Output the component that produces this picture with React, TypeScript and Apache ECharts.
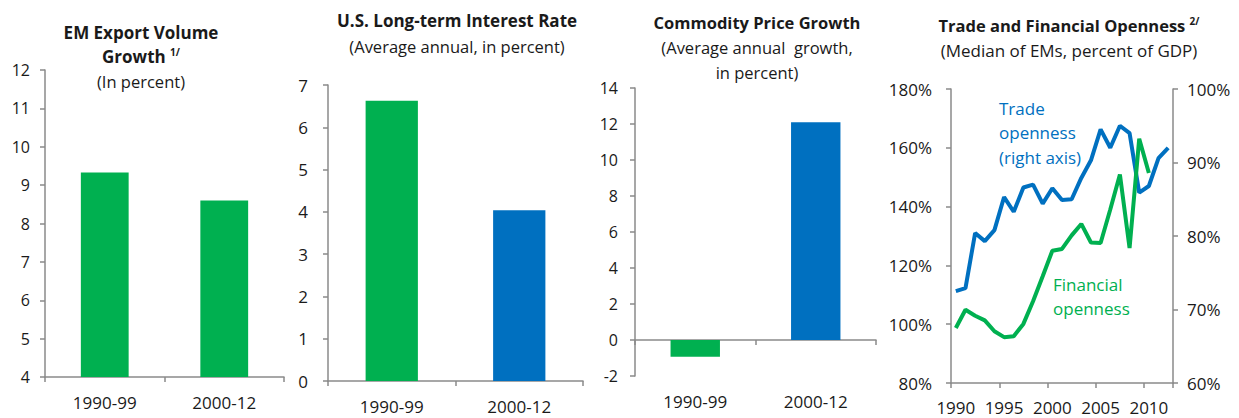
import React, { useEffect, useRef } from "react";
import * as echarts from "echarts";

const periods = ["1990-99", "2000-12"];
const exportGrowth = [9.33, 8.6];
const usLongRate = [6.63, 4.04];
const commodityGrowth = [-0.93, 12.1];
const periodColors = ["#00B050", "#0070C0"];

const years = [
  "1990", "1991", "1992", "1993", "1994", "1995", "1996", "1997", "1998", "1999",
  "2000", "2001", "2002", "2003", "2004", "2005", "2006", "2007", "2008", "2009",
  "2010", "2011", "2012",
];
const tradeOpenness = [
  72.5, 72.9, 80.4, 79.3, 80.8, 85.3, 83.3, 86.6, 87.0, 84.4,
  86.5, 84.9, 85.0, 87.9, 90.3, 94.5, 92.0, 95.0, 94.0, 85.9,
  86.8, 90.6, 92.0,
];
const financialOpenness = [
  98.7, 104.9, 102.9, 101.3, 97.6, 95.6, 95.9, 100.1, 107.8, 116.3,
  125.0, 125.6, 130.2, 134.1, 127.8, 127.6, 139.0, 150.9, 125.9, 163.1,
  151.4, null, null,
];

const GREEN = "#00B050";
const BLUE = "#0070C0";
const AXIS = "#8a8a8a";
const TXT = "#1a1a1a";
const FONT = "Open Sans";

const axisLine = { show: true, lineStyle: { color: AXIS, width: 1.5 } };
const tick = { show: true, length: 5, lineStyle: { color: AXIS, width: 1.5 } };
const label = { color: TXT, fontSize: 17, fontFamily: FONT };

function txt(x: number, y: number, text: string, bold = false, size = 16.5) {
  return {
    type: "text",
    x,
    y,
    style: {
      text,
      fill: TXT,
      fontSize: size,
      fontWeight: bold ? "bold" : "normal",
      fontFamily: FONT,
      textAlign: "center",
      textVerticalAlign: "middle",
      rich: { sup: { fontSize: 10, fontWeight: "bold", fontFamily: FONT, fill: TXT, padding: [0, 0, 9, 0] } },
    },
  };
}

export default function App() {
  const ref = useRef<HTMLDivElement>(null);
  useEffect(() => {
    if (!ref.current) return;
    const chart = echarts.init(ref.current, null, { renderer: "svg" });
    const option: any = {
      animation: false,
      backgroundColor: "#ffffff",
      grid: [
        { left: 45, top: 70, width: 239, height: 307 },
        { left: 328, top: 85, width: 255, height: 296 },
        { left: 635, top: 88, width: 241, height: 288 },
        { left: 951, top: 89, width: 222, height: 294 },
      ],
      xAxis: [
        { gridIndex: 0, type: "category", data: periods, axisLine, axisTick: tick, axisLabel: { ...label, margin: 17 } },
        { gridIndex: 1, type: "category", data: periods, axisLine, axisTick: tick, axisLabel: { ...label, margin: 17 } },
        {
          gridIndex: 2, type: "category", data: periods,
          axisLine: { show: false, onZero: false }, axisTick: { show: false }, axisLabel: { ...label, margin: 17 },
        },
        {
          gridIndex: 2, type: "category", data: periods, position: "bottom",
          axisLine: { ...axisLine, onZero: true }, axisTick: tick, axisLabel: { show: false },
        },
        {
          gridIndex: 3, type: "category", data: years, boundaryGap: true,
          axisLine, axisTick: { ...tick, alignWithLabel: false, interval: 4 },
          axisLabel: { ...label, fontSize: 17, interval: 4, margin: 16 },
        },
      ],
      yAxis: [
        { gridIndex: 0, type: "value", min: 4, max: 12, interval: 1, axisLine, axisTick: tick, splitLine: { show: false }, axisLabel: { ...label, fontSize: 16, margin: 15 } },
        { gridIndex: 1, type: "value", min: 0, max: 7, interval: 1, axisLine, axisTick: tick, splitLine: { show: false }, axisLabel: { ...label, fontSize: 17, margin: 20 } },
        { gridIndex: 2, type: "value", min: -2, max: 14, interval: 2, axisLine, axisTick: tick, splitLine: { show: false }, axisLabel: { ...label, fontSize: 16, margin: 17 } },
        {
          gridIndex: 3, type: "value", min: 80, max: 180, interval: 20, position: "left",
          axisLine, axisTick: tick, splitLine: { show: false },
          axisLabel: { ...label, fontSize: 17, margin: 19, formatter: "{value}%" },
        },
        {
          gridIndex: 3, type: "value", min: 60, max: 100, interval: 10, position: "right",
          axisLine, axisTick: tick, splitLine: { show: false },
          axisLabel: { ...label, fontSize: 17, margin: 14, formatter: "{value}%" },
        },
      ],
      series: [
        {
          type: "bar", xAxisIndex: 0, yAxisIndex: 0, barWidth: "40%",
          data: exportGrowth, itemStyle: { color: GREEN },
        },
        {
          type: "bar", xAxisIndex: 1, yAxisIndex: 1, barWidth: "41%",
          data: usLongRate.map((v, i) => ({ value: v, itemStyle: { color: periodColors[i] } })),
        },
        {
          type: "bar", xAxisIndex: 2, yAxisIndex: 2, barWidth: "41%",
          data: commodityGrowth.map((v, i) => ({ value: v, itemStyle: { color: periodColors[i] } })),
        },
        {
          type: "line", name: "Trade openness", xAxisIndex: 4, yAxisIndex: 4,
          data: tradeOpenness, symbol: "none", lineStyle: { color: BLUE, width: 4 }, itemStyle: { color: BLUE },
        },
        {
          type: "line", name: "Financial openness", xAxisIndex: 4, yAxisIndex: 3,
          data: financialOpenness, symbol: "none", lineStyle: { color: GREEN, width: 4 }, itemStyle: { color: GREEN },
        },
      ],
      graphic: [
        txt(141, 32, "EM Export Volume", true, 17),
        txt(141, 56, "Growth {sup|1/}", true, 17),
        txt(141, 81, "(In percent)"),
        txt(457, 20, "U.S. Long-term Interest Rate", true, 17),
        txt(457, 46, "(Average annual, in percent)"),
        txt(757, 22, "Commodity Price Growth", true),
        txt(757, 47, "(Average annual  growth,"),
        txt(757, 72, "in percent)"),
        txt(1069, 25, "Trade and Financial Openness {sup|2/}", true),
        txt(1069, 50, "(Median of EMs, percent of GDP)", false, 17),
        {
          type: "text", x: 999, y: 96,
          style: {
            text: "Trade\nopenness\n(right axis)", fill: BLUE, fontSize: 17, fontFamily: FONT,
            lineHeight: 24.5, textAlign: "left", textVerticalAlign: "top",
          },
        },
        {
          type: "text", x: 1053, y: 272,
          style: {
            text: "Financial\nopenness", fill: GREEN, fontSize: 17, fontFamily: FONT,
            lineHeight: 24.5, textAlign: "left", textVerticalAlign: "top",
          },
        },
      ],
    };
    chart.setOption(option);
    return () => chart.dispose();
  }, []);
  return (
    <div
      ref={ref}
      style={{ position: "fixed", left: 0, top: 0, width: 1239, height: 418, background: "#fff" }}
    />
  );
}
